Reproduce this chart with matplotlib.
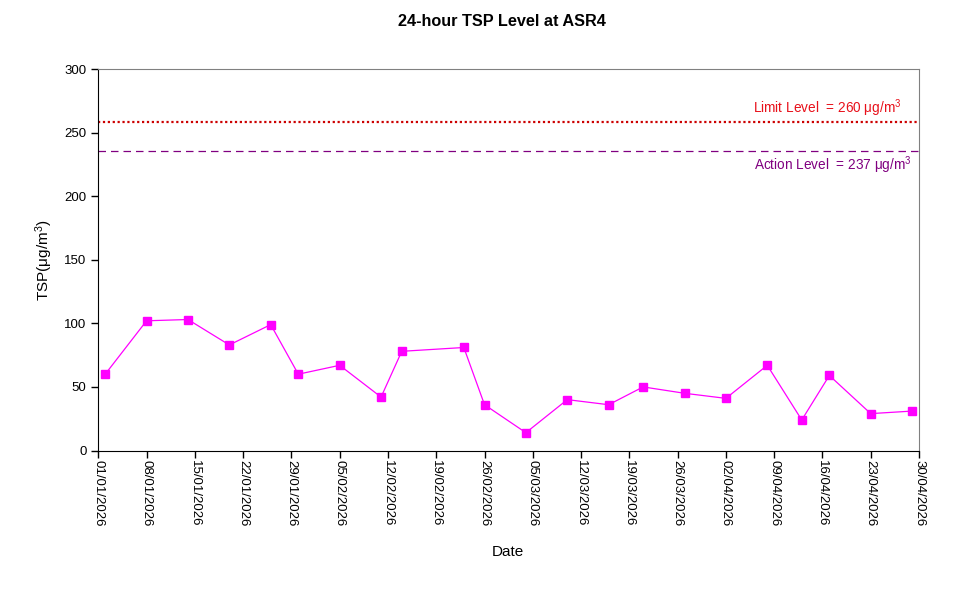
import matplotlib
matplotlib.use("Agg")
import matplotlib.pyplot as plt
import matplotlib.dates as mdates
import numpy as np
import pandas as pd

plt.rcParams['font.family'] = ['Liberation Sans', 'DejaVu Sans']
plt.rcParams['mathtext.fontset'] = 'custom'
plt.rcParams['mathtext.rm'] = 'Liberation Sans'
plt.rcParams['mathtext.it'] = 'Liberation Sans:italic'

# measurement dates and 24-hour TSP values (ug/m3)
dates = ['2026-01-02', '2026-01-08', '2026-01-14', '2026-01-20', '2026-01-26',
         '2026-01-30', '2026-02-05', '2026-02-11', '2026-02-14', '2026-02-23',
         '2026-02-26', '2026-03-04', '2026-03-10', '2026-03-16', '2026-03-21',
         '2026-03-27', '2026-04-02', '2026-04-08', '2026-04-13', '2026-04-17',
         '2026-04-23', '2026-04-29']
tsp = [60, 102, 103, 83, 99, 60, 67, 42, 78, 81, 36, 14, 40, 36, 50, 45, 41,
       67, 24, 59, 29, 31]

limit_level = 260
action_level = 237
limit_drawn = 258.4
action_drawn = 235.9

x = pd.to_datetime(dates)
start = pd.Timestamp('2026-01-01')
end = pd.Timestamp('2026-04-30')

fig = plt.figure(figsize=(9.67, 5.90), dpi=100)
ax = fig.add_axes([98.3/967, 1-450.5/590, (919-98.3)/967, (450.5-69)/590])

ax.plot(x, tsp, color='#ff00ff', lw=0.9, marker='s', ms=6, mec='#ff00ff', mfc='#ff00ff')

ax.plot([start, end], [limit_drawn, limit_drawn], color='#cc0000', ls=(0, (1, 1.2)), lw=1.6)
ax.plot([start, end], [action_drawn, action_drawn], color='#800080', ls=(0, (6, 4)), lw=0.9)

ax.text(0.979, 261, 'Limit Level  = %d \u03bcg/m$^3$' % limit_level, color='#e8101a',
        fontsize=9.8, ha='right', va='bottom', transform=ax.get_yaxis_transform())
ax.text(0.991, 233, 'Action Level  = %d \u03bcg/m$^3$' % action_level, color='#800080',
        fontsize=9.8, ha='right', va='top', transform=ax.get_yaxis_transform())

ax.set_xlim(start, end)
ax.set_ylim(0, 300)
ax.set_yticks(np.arange(0, 301, 50))
ticks = pd.date_range(start, end, freq='7D')
ax.set_xticks(ticks)
ax.xaxis.set_major_formatter(mdates.DateFormatter('%d/%m/%Y'))
plt.setp(ax.get_xticklabels(), rotation=-90, ha='center', va='top')
ax.tick_params(direction='out', length=5, width=1, labelsize=9.5, colors='black')
ax.tick_params(axis='x', pad=2)

ax.spines['left'].set_color('black')
ax.spines['bottom'].set_color('black')
ax.spines['top'].set_color('#808080')
ax.spines['right'].set_color('#808080')

ax.set_ylabel('TSP(\u03bcg/m$^3$)', fontsize=11)
ax.yaxis.set_label_coords(-0.053, 0.5)
fig.text(508/967, 1-552/590, 'Date', fontsize=11, ha='center', va='center')
fig.text(502/967, 1-21/590, '24-hour TSP Level at ASR4', fontsize=11.7, fontweight='bold',
         ha='center', va='center')

fig.savefig('out.png', dpi=100)
